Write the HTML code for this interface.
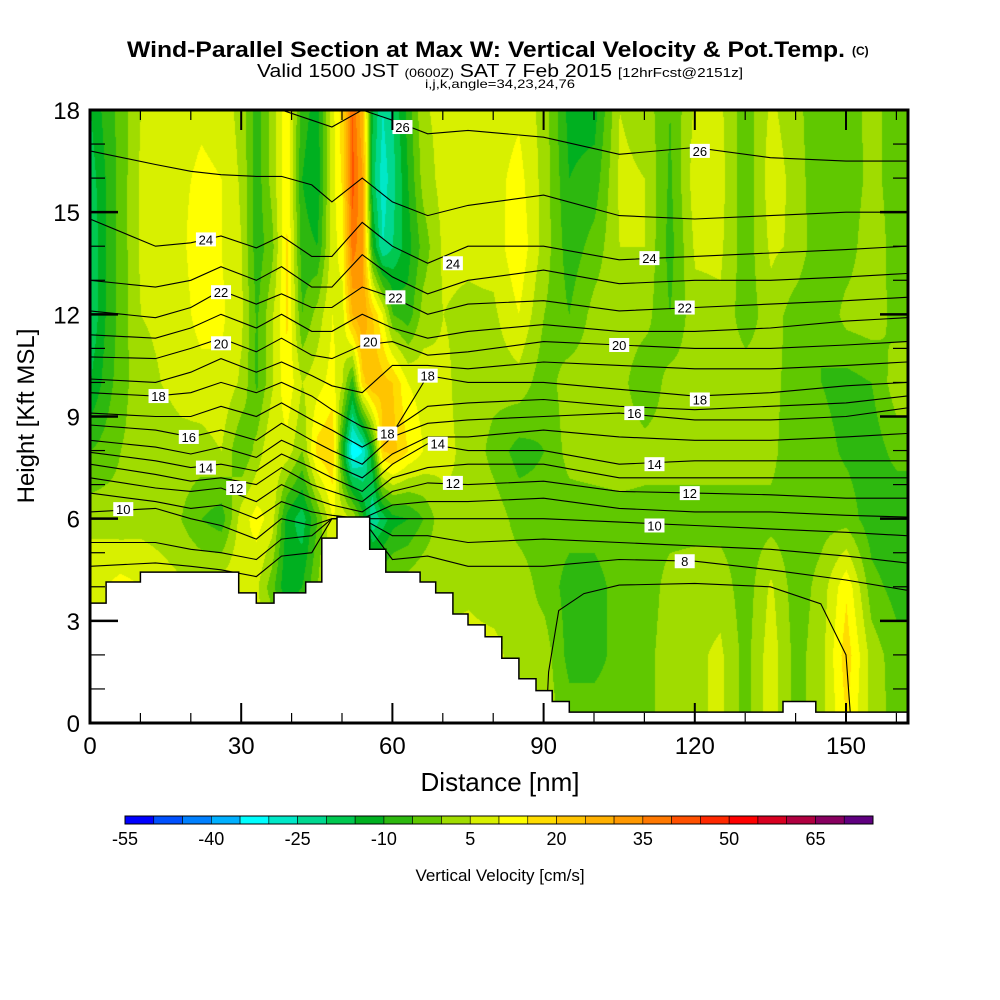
<!DOCTYPE html>
<html><head><meta charset="utf-8"><style>
html,body{margin:0;padding:0;background:#fff;}
#wrap{position:relative;width:1000px;height:1000px;overflow:hidden;background:#fff;}
#field{position:absolute;left:90px;top:110px;}
#svg{position:absolute;left:0;top:0;}
text{font-family:"Liberation Sans",sans-serif;}
</style></head><body>
<div id="wrap">
<canvas id="field" width="818" height="613"></canvas>
<svg id="svg" width="1000" height="1000" xmlns="http://www.w3.org/2000/svg">
<g id="contours"></g>
<g id="terrain"></g>
<g id="clabels"></g>
<rect x="90" y="110" width="818" height="613" fill="none" stroke="#000" stroke-width="3"/>
<g id="ticks"></g>
<g id="xlabels"></g>
<g id="ylabels"></g>
<text x="500" y="791" font-size="26" text-anchor="middle">Distance [nm]</text>
<text transform="translate(34,416) rotate(-90)" font-size="24" text-anchor="middle">Height [Kft MSL]</text>
<text x="127" y="57" font-size="22" font-weight="bold" textLength="718" lengthAdjust="spacingAndGlyphs">Wind-Parallel Section at Max W: Vertical Velocity &amp; Pot.Temp.</text>
<text x="852" y="55" font-size="12" font-weight="bold">(C)</text>
<text x="257" y="77" font-size="18" textLength="486" lengthAdjust="spacingAndGlyphs">Valid 1500 JST <tspan font-size="12">(0600Z)</tspan> SAT 7 Feb 2015 <tspan font-size="13">[12hrFcst@2151z]</tspan></text>
<text x="425" y="88" font-size="12" textLength="150" lengthAdjust="spacingAndGlyphs">i,j,k,angle=34,23,24,76</text>
<g id="cbar"></g>
<text x="500" y="881" font-size="17" text-anchor="middle">Vertical Velocity [cm/s]</text>
</svg>
</div>
<script>
// ---- data ----
const gridDistances = [0,3,6,10,14,18,22,26,30,33,36,39,42,45,48,50,52,54,56,58,60,63,66,70,75,80,85,90,95,100,105,110,115,120,125,130,135,140,145,150,155,160,163];
const gridHeights = [0,2,4,6,8,10,12,14,16,18];
const wColumns = [
[8,8,10,3,-5,-15,-20,-20,-18,-15],
[8,8,10,3,-3,-8,-10,-10,-10,-8],
[8,8,12,2,0,-2,-3,-3,-3,-3],
[8,8,10,3,2,3,5,6,6,5],
[8,8,8,2,2,5,6,7,7,6],
[7,7,6,0,3,7,8,9,9,8],
[7,7,6,-5,3,8,12,13,11,9],
[7,7,8,-8,5,9,11,10,10,8],
[8,8,10,8,-5,4,6,5,4,3],
[8,8,6,12,2,-6,-6,-8,-8,-8],
[8,8,-3,8,10,4,4,-2,2,2],
[8,8,-15,-12,8,14,16,16,14,14],
[8,8,-10,-18,0,5,-5,-8,-10,-8],
[8,8,0,-5,17,8,2,-10,-14,-12],
[8,8,8,10,20,12,10,8,8,8],
[8,8,10,8,-10,5,8,12,16,18],
[8,8,8,5,-35,-8,25,38,42,40],
[8,8,5,-8,-30,18,30,30,30,25],
[8,8,4,-25,-10,25,20,-10,-18,-15],
[8,8,2,-18,20,22,10,-25,-28,-25],
[8,8,2,-12,22,20,-5,-20,-22,-20],
[8,8,3,-10,15,10,-8,-12,-10,-8],
[7,7,5,-5,10,8,2,-3,2,4],
[7,7,3,4,6,6,5,6,7,7],
[7,7,4,5,4,3,4,6,6,6],
[7,7,2,3,-2,2,4,7,8,7],
[7,2,3,-2,-7,3,10,14,12,9],
[3,3,-2,-3,-5,-3,0,3,3,3],
[-2,-7,-7,-3,2,3,-5,-8,-10,-12],
[-2,-7,-7,-3,3,3,2,-3,-8,-12],
[-2,-3,-3,-2,3,2,3,5,6,5],
[-2,-2,-3,-2,2,-4,2,5,5,3],
[3,3,2,-2,2,2,-5,-7,-6,-5],
[4,4,3,-2,2,2,3,6,8,6],
[6,6,3,-2,2,3,4,6,7,6],
[-2,-2,-3,-3,3,3,-3,-3,-4,-3],
[8,8,6,-2,2,2,3,6,8,6],
[-2,-2,-3,-3,-5,-3,-3,4,3,2],
[3,3,2,-2,-3,-5,-5,-5,-5,-5],
[15,18,14,-2,-6,-7,2,-3,-4,-3],
[3,3,-3,-8,-8,-5,3,4,2,2],
[-2,-3,-7,-10,-3,3,-2,-3,-3,-3],
[-2,-3,-7,-10,-3,3,-2,-3,-3,-3]
];
const colorBinStart = -55;
const colorBinSize = 5;
const binColors = ['#0000ff','#0050ff','#0080ff','#00b0ff','#00ffff','#00e8c8','#00d890','#00c850','#00b020','#2db80f','#60c800','#a0dc00','#d8f000','#ffff00','#ffdc00','#ffc400','#ffb000','#ff9800','#ff7800','#ff5000','#ff2800','#ff0000','#d80020','#b00040','#880060','#600080'];
const colorbarLabels = [-55,-40,-25,-10,5,20,35,50,65];

const thetaDistances = [0,13,20,26,33,38,44,48,54,60,67,75,90,105,120,135,150,162];
const thetaLevels = [26,25,24,23,22,21,20,19,18,17,16,15,14,13,12,11,10,9,8];
const thetaHeights = [
[18.6,18.4,18.3,18.2,18.2,18.0,17.7,17.5,18.0,17.7,17.3,17.4,17.2,16.7,16.9,16.6,16.5,16.5],
[16.8,16.4,16.2,16.1,16.05,16.05,15.8,15.3,16.0,15.3,14.9,15.2,15.5,14.9,14.8,14.9,15.0,15.0],
[14.8,14.0,14.1,14.3,13.95,14.3,13.7,13.7,14.7,14.0,13.5,14.0,14.0,13.6,13.7,13.8,13.9,14.0],
[13.0,12.8,13.0,13.4,13.0,13.4,12.8,12.8,13.75,13.1,12.6,13.0,13.3,12.9,13.0,13.0,13.1,13.2],
[12.1,11.9,12.2,12.7,12.3,12.6,12.2,12.2,12.8,12.5,12.0,12.3,12.4,12.1,12.2,12.3,12.4,12.5],
[11.4,11.3,11.6,12.0,11.6,12.0,11.5,11.5,12.0,11.6,11.3,11.5,11.7,11.5,11.5,11.6,11.8,11.9],
[10.75,10.7,11.0,11.3,10.9,11.3,10.8,10.7,11.1,11.2,10.8,10.9,11.2,11.1,11.0,11.0,11.1,11.2],
[10.1,10.0,10.3,10.7,10.3,10.6,10.2,9.9,9.7,10.5,10.5,10.4,10.6,10.5,10.4,10.4,10.5,10.6],
[9.7,9.6,9.7,10.0,9.7,10.0,9.6,9.2,8.7,8.5,10.2,10.0,10.0,9.8,9.6,9.7,9.9,10.0],
[9.1,9.0,9.0,9.3,9.0,9.4,8.9,8.6,8.1,8.6,9.3,9.4,9.5,9.3,9.2,9.3,9.4,9.6],
[8.75,8.6,8.4,8.6,8.3,8.8,8.3,8.0,7.6,8.4,8.8,8.9,9.0,9.1,8.9,8.9,9.0,9.25],
[8.3,8.1,7.9,8.1,7.8,8.3,7.9,7.6,7.2,7.9,8.4,8.4,8.6,8.4,8.3,8.3,8.4,8.5],
[7.95,7.7,7.5,7.6,7.4,7.9,7.5,7.2,6.8,7.6,8.2,8.0,8.0,7.6,7.7,7.7,7.7,7.7],
[7.6,7.3,7.1,7.2,7.0,7.5,7.0,6.8,6.5,7.2,7.5,7.6,7.6,7.2,7.2,7.2,7.2,7.2],
[7.2,6.9,6.8,6.9,6.5,7.0,6.6,6.4,6.2,6.8,7.05,7.0,7.1,6.8,6.75,6.7,6.6,6.6],
[6.75,6.5,6.3,6.4,6.0,6.5,6.2,6.1,6.0,6.4,6.5,6.5,6.6,6.3,6.2,6.2,6.1,6.05],
[6.2,6.3,6.0,5.8,5.4,6.0,5.8,6.0,6.0,6.0,6.0,6.0,6.0,5.9,5.8,5.7,5.6,5.5],
[5.3,5.3,5.1,5.0,4.8,5.4,5.5,6.0,6.0,5.5,5.5,5.3,5.4,5.3,5.2,5.1,4.9,4.7],
[4.6,4.7,4.6,4.5,4.3,4.9,5.0,6.0,6.0,4.8,4.9,4.6,4.6,4.8,4.75,4.5,4.2,3.9]
];
const theta7Distances = [90.5,91,93,98,105,120,135,145,150,151];
const theta7Heights = [0,1.5,3.3,3.8,4.05,4.1,4.0,3.5,2.0,0];
const contourLabelLevels = [26,26,24,24,24,22,22,22,20,20,20,18,18,18,16,18,16,14,14,14,12,12,12,10,10,8];
const contourLabelDistances = [62,121,23,72,111,26,60.6,118,26,55.6,105,13.6,67,121,19.6,59,108,23,69,112,29,72,119,6.6,112,118];
const contourLabelHeights = [17.5,16.8,14.2,13.5,13.65,12.65,12.5,12.2,11.15,11.2,11.1,9.6,10.2,9.5,8.4,8.5,9.1,7.5,8.2,7.6,6.9,7.05,6.75,6.28,5.8,4.75];
const terrainStarts = [0,3.2,10,29.5,33,36.5,42.8,46,49,55.5,58.7,65.5,68.6,72,75,78.4,81.7,85.1,88.5,91.7,95.1,137.5,144];
const terrainEnds = [3.2,10,29.5,33,36.5,42.8,46,49,55.5,58.7,65.5,68.6,72,75,78.4,81.7,85.1,88.5,91.7,95.1,137.5,144,163];
const terrainHeights = [3.52,4.14,4.43,3.82,3.52,3.82,4.14,5.43,6.05,5.1,4.43,4.14,3.82,3.2,2.88,2.53,1.9,1.3,0.95,0.63,0.32,0.63,0.32];
const xTickLabels = [0,30,60,90,120,150];
const yTickLabels = [0,3,6,9,12,15,18];

// ---- scales ----
const X0=90, X1=908, Y0=723, Y1=110;
const PXNM = 5.04, PXK = (Y0-Y1)/18;
const sx = nm => X0 + nm*PXNM;
const sy = k => Y0 - k*PXK;
const NS='http://www.w3.org/2000/svg';
function mk(tag, attrs, parent){const e=document.createElementNS(NS,tag);for(const k in attrs)e.setAttribute(k,attrs[k]);parent.appendChild(e);return e;}

// ---- field ----
(function(){
  const cv=document.getElementById('field'), ctx=cv.getContext('2d');
  const W=cv.width,H=cv.height, img=ctx.createImageData(W,H);
  const rgb=binColors.map(c=>[parseInt(c.slice(1,3),16),parseInt(c.slice(3,5),16),parseInt(c.slice(5,7),16)]);
  for(let px=0;px<W;px++){
    const nm=px/PXNM;
    let i=0; while(i<gridDistances.length-2 && gridDistances[i+1]<nm) i++;
    const tx=Math.max(0,Math.min(1,(nm-gridDistances[i])/(gridDistances[i+1]-gridDistances[i])));
    for(let py=0;py<H;py++){
      const k=(H-py)/PXK;
      let j=0; while(j<gridHeights.length-2 && gridHeights[j+1]<k) j++;
      const ty=Math.max(0,Math.min(1,(k-gridHeights[j])/(gridHeights[j+1]-gridHeights[j])));
      const a=wColumns[i][j]*(1-ty)+wColumns[i][j+1]*ty;
      const b=wColumns[i+1][j]*(1-ty)+wColumns[i+1][j+1]*ty;
      const v=a*(1-tx)+b*tx;
      let bi=Math.floor((v-colorBinStart)/colorBinSize); bi=Math.max(0,Math.min(rgb.length-1,bi));
      const o=(py*W+px)*4; img.data[o]=rgb[bi][0];img.data[o+1]=rgb[bi][1];img.data[o+2]=rgb[bi][2];img.data[o+3]=255;
    }
  }
  ctx.putImageData(img,0,0);
})();

// ---- contours ----
const cg=document.getElementById('contours');
const clip=mk('clipPath',{id:'plotclip'},mk('defs',{},cg));
mk('rect',{x:X0,y:Y1,width:X1-X0,height:Y0-Y1},clip);
cg.setAttribute('clip-path','url(#plotclip)');
thetaLevels.forEach((lv,li)=>{
  const d=thetaDistances.map((nm,i)=>(i?'L':'M')+sx(nm).toFixed(1)+','+sy(thetaHeights[li][i]).toFixed(1)).join('');
  const p=mk('path',{d:d,fill:'none',stroke:'#000','stroke-width':1.1},cg);
  
  
});
{
  const d=theta7Distances.map((nm,i)=>(i?'L':'M')+sx(nm).toFixed(1)+','+sy(theta7Heights[i]).toFixed(1)).join('');
  const p=mk('path',{d:d,fill:'none',stroke:'#000','stroke-width':1.1},cg);
  
  
}

// ---- terrain ----
const tg=document.getElementById('terrain');
let td='M'+sx(0)+','+Y0;
terrainStarts.forEach((s,i)=>{td+='L'+sx(s).toFixed(1)+','+sy(terrainHeights[i]).toFixed(1)+'L'+Math.min(X1,sx(terrainEnds[i])).toFixed(1)+','+sy(terrainHeights[i]).toFixed(1);});
td+='L'+X1+','+Y0+'Z';
const tp=mk('path',{d:td,fill:'#fff',stroke:'#000','stroke-width':1.5},tg);



// ---- contour labels ----
const lg=document.getElementById('clabels');
contourLabelLevels.forEach((lv,i)=>{
  const x=sx(contourLabelDistances[i]), y=sy(contourLabelHeights[i]);
  const g=mk('g',{},lg);
  
  
  mk('rect',{x:x-10,y:y-7,width:20,height:14,fill:'#fff'},g);
  const t=mk('text',{x:x,y:y+5,'font-size':13,'text-anchor':'middle',fill:'#000'},g);
  t.textContent=lv;
});

// ---- ticks ----
const kg=document.getElementById('ticks');
for(let nm=0;nm<=160;nm+=10){
  const major=nm%30===0, L=major?20:10, x=sx(nm);
  mk('line',{x1:x,x2:x,y1:Y0,y2:Y0-L,stroke:'#000','stroke-width':major?2:1.2},kg);
  mk('line',{x1:x,x2:x,y1:Y1,y2:Y1+L,stroke:'#000','stroke-width':major?2:1.2},kg);
}
for(let k=0;k<=18;k++){
  const major=k%3===0, L=major?28:15, y=sy(k);
  mk('line',{x1:X0,x2:X0+L,y1:y,y2:y,stroke:'#000','stroke-width':major?2.5:1.2},kg);
  mk('line',{x1:X1,x2:X1-L,y1:y,y2:y,stroke:'#000','stroke-width':major?2.5:1.2},kg);
}
const xl=document.getElementById('xlabels');
xTickLabels.forEach(v=>{
  const t=mk('text',{x:sx(v),y:754,'font-size':24,'text-anchor':'middle'},xl);
  
  
  t.textContent=v;
});
const yl=document.getElementById('ylabels');
yTickLabels.forEach(v=>{
  const t=mk('text',{x:80,y:sy(v)+9,'font-size':24,'text-anchor':'end'},yl);
  
  
  t.textContent=v;
});

// ---- colorbar ----
const cb=document.getElementById('cbar');
const CB0=125, CBW=(873-125)/binColors.length;
binColors.forEach((c,i)=>{
  const r=mk('rect',{x:CB0+i*CBW,y:816,width:CBW,height:8,fill:c,stroke:'#000','stroke-width':0.6},cb);
  
  
});
mk('rect',{x:CB0,y:816,width:873-CB0,height:8,fill:'none',stroke:'#000','stroke-width':1},cb);
colorbarLabels.forEach(v=>{
  const t=mk('text',{x:CB0+(v-colorBinStart)/colorBinSize*CBW,y:845,'font-size':18,'text-anchor':'middle'},cb);
  
  
  t.textContent=v;
});
</script>
</body></html>
